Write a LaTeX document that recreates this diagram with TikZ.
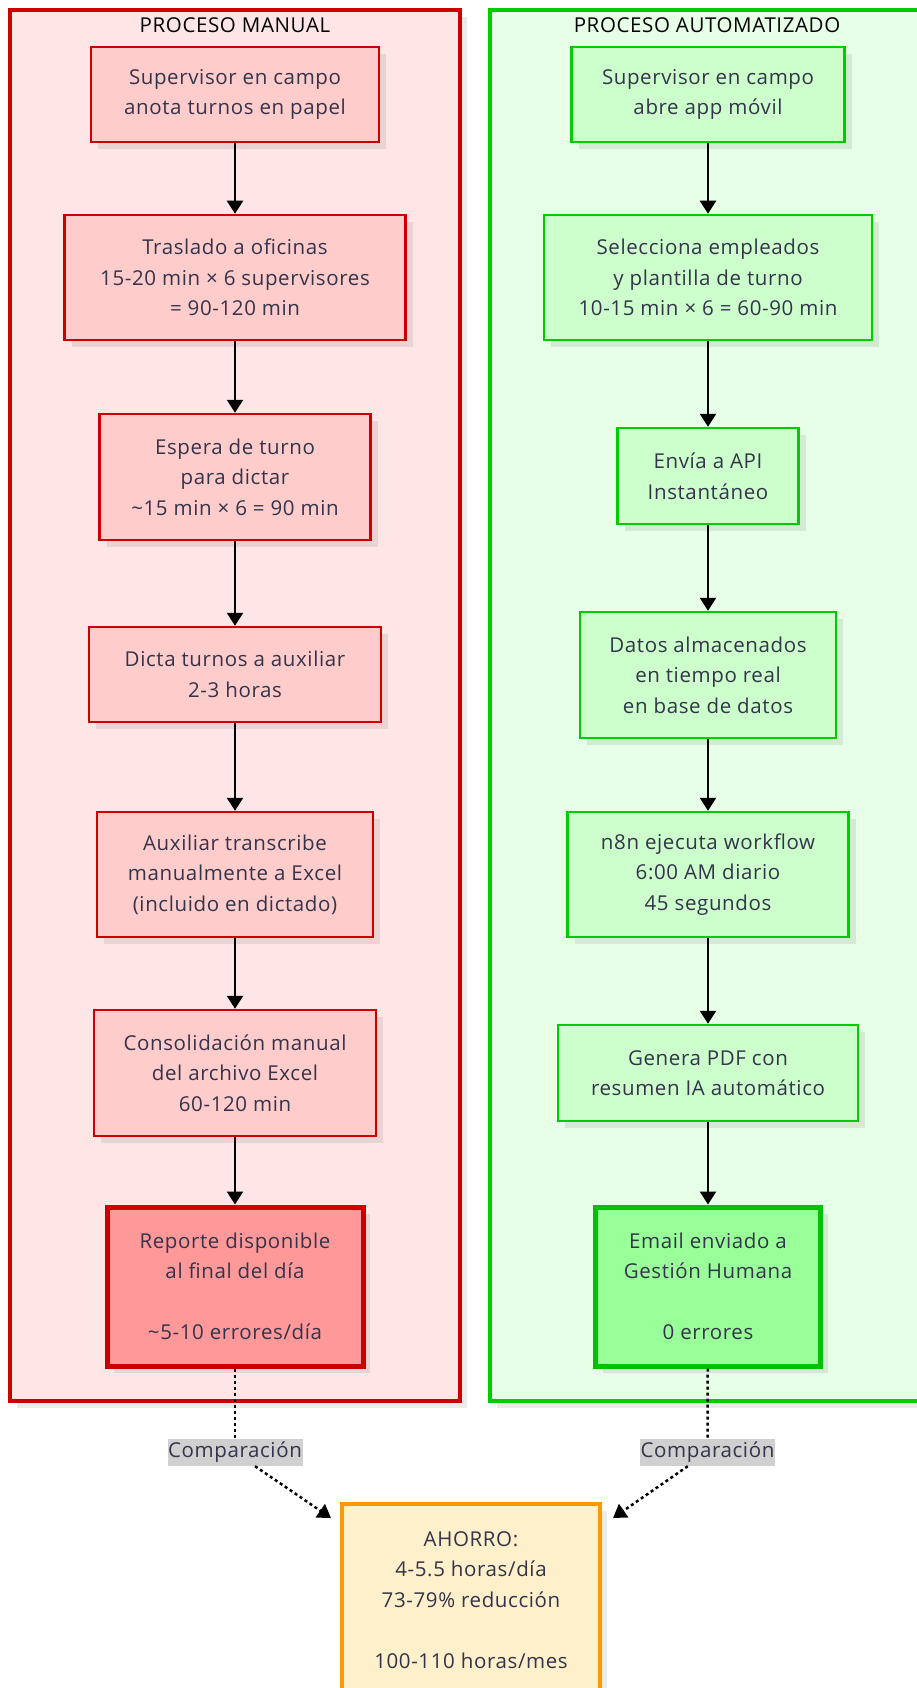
\documentclass[tikz,border=0pt]{standalone}
\usepackage{fontspec}
\setmainfont[LetterSpace=3]{Open Sans}
\usetikzlibrary{arrows.meta,shadows}

\definecolor{manbg}{HTML}{FFE6E6}
\definecolor{manline}{HTML}{CC0000}
\definecolor{manfill}{HTML}{FFCCCC}
\definecolor{repfill}{HTML}{FF9999}
\definecolor{autobg}{HTML}{E6FFE6}
\definecolor{autoline}{HTML}{00CC00}
\definecolor{autofill}{HTML}{CCFFCC}
\definecolor{mailfill}{HTML}{99FF99}
\definecolor{savefill}{HTML}{FFF0CC}
\definecolor{saveline}{HTML}{FF9900}
\definecolor{cmpgray}{HTML}{D0D0D0}
\definecolor{txtgray}{HTML}{34344A}

\tikzset{
  softshadow/.style={drop shadow={shadow xshift=7pt, shadow yshift=-7pt, fill=black, opacity=0.08}},
  cluster/.style={line width=3.75pt, softshadow},
  box/.style={align=center, inner sep=0pt, text=txtgray, softshadow},
  mstep/.style={box, draw=manline, fill=manfill, line width=2.5pt},
  astep/.style={box, draw=autoline, fill=autofill, line width=2.5pt},
  mend/.style={box, draw=manline, fill=repfill, line width=5pt},
  aend/.style={box, draw=autoline!95!black, fill=mailfill, line width=5pt},
  savebox/.style={box, draw=saveline, fill=savefill, line width=3.75pt},
  cmplabel/.style={fill=cmpgray, text=txtgray, inner sep=0pt, minimum width=135pt, minimum height=27pt},
  flow/.style={line width=2.4pt, -{Triangle[width=16pt,length=13pt]}},
  cmpline/.style={line width=2.5pt, dash pattern=on 3pt off 3pt}
}

\begin{document}
\begin{tikzpicture}[x=1pt, y=-1pt, font=\fontsize{20.5}{30.5}\selectfont]
\useasboundingbox (0,0) rectangle (916,1688);

% clusters
\filldraw [cluster, draw=manline, fill=manbg] (10,10) rectangle (460,1401);
\filldraw [cluster, draw=autoline, fill=autobg] (490,10) rectangle (925,1401);
\node (mantitle) at (235,25) {PROCESO MANUAL};
\node (autotitle) at (707,25) {PROCESO AUTOMATIZADO};

% manual process
\node [mstep, minimum width=288pt, minimum height=95pt] (m1) at (235,94.5) {Supervisor en campo\\anota turnos en papel};
\node [mstep, minimum width=341pt, minimum height=125pt] (m2) at (235,277.5) {Traslado a oficinas\\15-20 min × 6 supervisores\\= 90-120 min};
\node [mstep, minimum width=271pt, minimum height=126pt] (m3) at (235,477) {Espera de turno\\para dictar\\\textasciitilde15 min × 6 = 90 min};
\node [mstep, minimum width=292pt, minimum height=95pt] (m4) at (235,674.5) {Dicta turnos a auxiliar\\2-3 horas};
\node [mstep, minimum width=276pt, minimum height=125pt] (m5) at (235,874.5) {Auxiliar transcribe\\manualmente a Excel\\(incluido en dictado)};
\node [mstep, minimum width=282pt, minimum height=126pt] (m6) at (235,1073) {Consolidación manual\\del archivo Excel\\60-120 min};
\node [mend, minimum width=256pt, minimum height=159pt] (m7) at (235,1286.5) {Reporte disponible\\al final del día\\[30.5pt]\textasciitilde5-10 errores/día};

% automated process
\node [astep, minimum width=273pt, minimum height=95pt] (a1) at (708,94.5) {Supervisor en campo\\abre app móvil};
\node [astep, minimum width=328pt, minimum height=125pt] (a2) at (708,277.5) {Selecciona empleados\\y plantilla de turno\\10-15 min × 6 = 60-90 min};
\node [astep, minimum width=181pt, minimum height=96pt] (a3) at (708,476) {Envía a API\\Instantáneo};
\node [astep, minimum width=256pt, minimum height=126pt] (a4) at (708,675) {Datos almacenados\\en tiempo real\\en base de datos};
\node [astep, minimum width=281pt, minimum height=125pt] (a5) at (708,874.5) {n8n ejecuta workflow\\6:00 AM diario\\45 segundos};
\node [astep, minimum width=300pt, minimum height=96pt] (a6) at (708,1073) {Genera PDF con\\resumen IA automático};
\node [aend, minimum width=225pt, minimum height=159pt] (a7) at (708,1286.5) {Email enviado a\\Gestión Humana\\[30.5pt]0 errores};

% savings
\node [savebox, minimum width=258pt, minimum height=192pt] (ahorro) at (471,1600) {AHORRO:\\4-5.5 horas/día\\73-79\% reducción\\[30.5pt]100-110 horas/mes};
\node [cmplabel] (cmpL) at (235,1452.5) {Comparación};
\node [cmplabel] (cmpR) at (707.5,1452.5) {Comparación};
\coordinate (tipL) at (331,1518);
\coordinate (tipR) at (613,1518);

\begin{scope}[flow]
\draw (m1) -- (m2);
\draw (m2) -- (m3);
\draw (m3) -- (m4);
\draw (m4) -- (m5);
\draw (m5) -- (m6);
\draw (m6) -- (m7);
\draw (a1) -- (a2);
\draw (a2) -- (a3);
\draw (a3) -- (a4);
\draw (a4) -- (a5);
\draw (a5) -- (a6);
\draw (a6) -- (a7);
\end{scope}

\begin{scope}[cmpline]
\draw (m7) -- (cmpL);
\draw (a7) -- (cmpR);
\draw [-{Triangle[width=16pt,length=13pt]}] (cmpL) -- (tipL);
\draw [-{Triangle[width=16pt,length=13pt]}] (cmpR) -- (tipR);
\end{scope}

\end{tikzpicture}
\end{document}
